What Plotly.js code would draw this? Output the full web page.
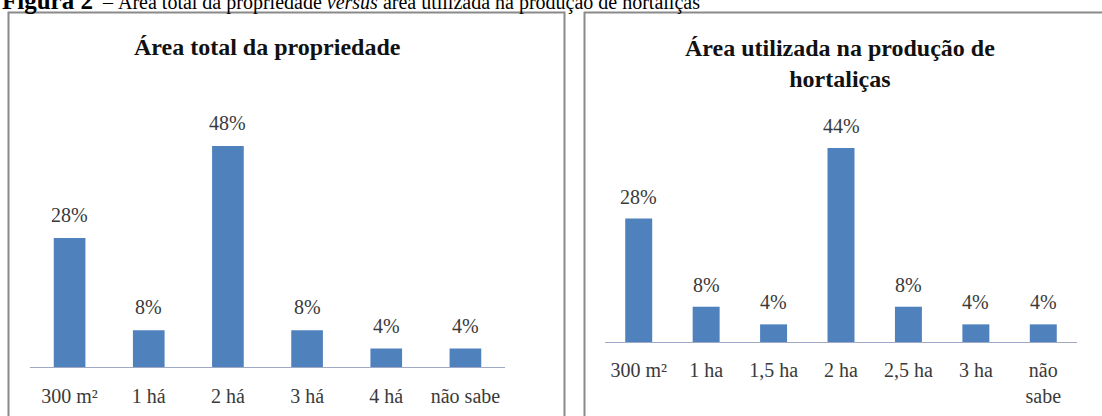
<!DOCTYPE html>
<html>
<head>
<meta charset="utf-8">
<script src="https://cdn.plot.ly/plotly-3.0.1.min.js"></script>
<style>
html,body{margin:0;padding:0;background:#fff;}
#chart{width:1102px;height:416px;}
</style>
</head>
<body>
<div id="chart"></div>
<script>
// ---- data ----
const leftTitle = "Área total da propriedade";
const leftCategories = ["300 m²", "1 há", "2 há", "3 há", "4 há", "não sabe"];
const leftValues = [28, 8, 48, 8, 4, 4];

const rightTitle = "Área utilizada na produção de<br>hortaliças";
const rightCategories = ["300 m²", "1 ha", "1,5 ha", "2 ha", "2,5 ha", "3 ha", "não<br>sabe"];
const rightValues = [28, 8, 4, 44, 8, 4, 4];

const captionLabel = "Figura 2";
const captionText = "– Área total da propriedade <i>versus</i> área utilizada na produção de hortaliças";

// ---- layout helpers ----
const W = 1102, H = 416;
const px = p => p / W;
const py = p => 1 - p / H;

const barColor = "#4F81BD";
const serif = "Liberation Serif";

// left axis: baseline at 367px, 48% at 146px
const lBase = 367, lPer = (367 - 146) / 48, lMax = 50;
const lTop = lBase - lPer * lMax;
// right axis: baseline at 342px, 44% at 148px
const rBase = 342, rPer = (342 - 148) / 44, rMax = 50;
const rTop = rBase - rPer * rMax;

const traces = [
  {
    type: "bar", x: leftCategories, y: leftValues,
    xaxis: "x", yaxis: "y",
    marker: {color: barColor}, hoverinfo: "x+y"
  },
  {
    type: "bar", x: rightCategories, y: rightValues,
    xaxis: "x2", yaxis: "y2",
    marker: {color: barColor}, hoverinfo: "x+y"
  }
];

const labelFont = {family: serif, size: 20, color: "#3a3a3a"};
const annotations = [];
leftCategories.forEach((c, i) => annotations.push({
  xref: "x", yref: "y", x: c, y: leftValues[i], text: leftValues[i] + "%",
  showarrow: false, yanchor: "middle", yshift: 23, font: labelFont
}));
rightCategories.forEach((c, i) => annotations.push({
  xref: "x2", yref: "y2", x: c, y: rightValues[i], text: rightValues[i] + "%",
  showarrow: false, yanchor: "middle", yshift: 22, font: labelFont
}));
annotations.push({
  xref: "paper", yref: "paper", x: px(267), y: py(47), text: "<b>" + leftTitle + "</b>",
  showarrow: false, xanchor: "center", yanchor: "middle",
  font: {family: serif, size: 24, color: "#111"}
});
annotations.push({
  xref: "paper", yref: "paper", x: px(840), y: py(63.5), text: "<b>" + rightTitle.replace("<br>", "</b><br><b>") + "</b>",
  showarrow: false, xanchor: "center", yanchor: "middle",
  font: {family: serif, size: 24, color: "#111"}
});
annotations.push({
  xref: "paper", yref: "paper", x: 0, y: py(1),
  text: "<span style=\"font-size:25px\"><b>" + captionLabel + "</b></span>  " + captionText,
  showarrow: false, xanchor: "left", yanchor: "middle",
  font: {family: serif, size: 20, color: "#000"}
});

const axisLine = "#9FA8C4";
const tickFont = {family: serif, size: 20, color: "#3a3a3a"};

const layout = {
  width: W, height: H,
  margin: {l: 0, r: 0, t: 0, b: 0},
  paper_bgcolor: "#fff", plot_bgcolor: "rgba(0,0,0,0)",
  showlegend: false,
  bargap: 0.6,
  xaxis: {
    domain: [px(30), px(505)], anchor: "y",
    showline: true, linecolor: axisLine, linewidth: 1,
    ticks: "", tickfont: tickFont, showgrid: false, zeroline: false,
    ticklabelstandoff: 11, fixedrange: true
  },
  yaxis: {
    domain: [py(lBase), py(lTop)], anchor: "x", range: [0, lMax],
    visible: false, showgrid: false, zeroline: false, fixedrange: true
  },
  xaxis2: {
    domain: [px(605), px(1077)], anchor: "y2",
    showline: true, linecolor: axisLine, linewidth: 1,
    ticks: "", tickfont: tickFont, showgrid: false, zeroline: false,
    ticklabelstandoff: 10, fixedrange: true
  },
  yaxis2: {
    domain: [py(rBase), py(rTop)], anchor: "x2", range: [0, rMax],
    visible: false, showgrid: false, zeroline: false, fixedrange: true
  },
  shapes: [
    {type: "rect", xref: "paper", yref: "paper",
     x0: px(8.5), x1: px(564.5), y0: py(420), y1: py(12.5),
     line: {color: "#8a8a8a", width: 2}},
    {type: "rect", xref: "paper", yref: "paper",
     x0: px(584.5), x1: px(1110), y0: py(420), y1: py(12.5),
     line: {color: "#8a8a8a", width: 2}}
  ],
  annotations: annotations
};

Plotly.newPlot("chart", traces, layout, {displayModeBar: false, staticPlot: true});
</script>
</body>
</html>
